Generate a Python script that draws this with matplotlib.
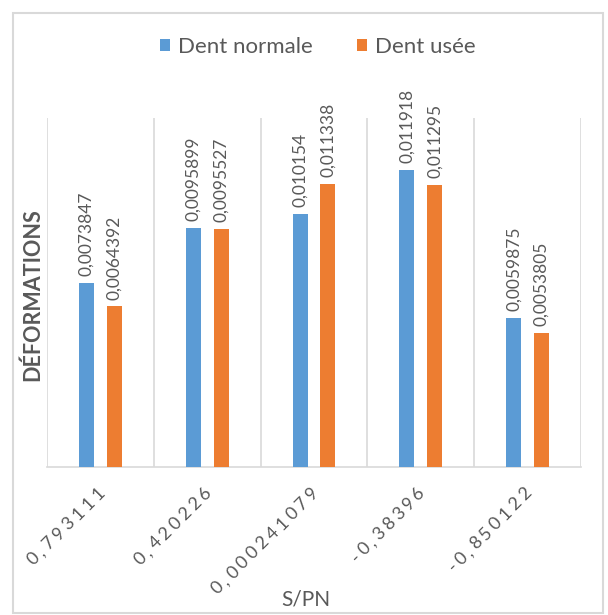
import matplotlib
matplotlib.use("Agg")
import numpy as np
from matplotlib import pyplot as plt
from matplotlib.patches import Rectangle

# S/PN levels and measured deformations
spn_labels = ["0,793111", "0,420226", "0,000241079", "-0,38396", "-0,850122"]
dent_normale = [0.0073847, 0.0095899, 0.010154, 0.011918, 0.0059875]
dent_usee = [0.0064392, 0.0095527, 0.011338, 0.011295, 0.0053805]

blue = "#5B9BD5"
orange = "#ED7D31"
txt = "#595959"
grid_col = "#D9D9D9"

plt.rcParams['font.family'] = ['Lato', 'DejaVu Sans']

fig = plt.figure(figsize=(6.08, 6.15), dpi=100)
W, H = 608, 615
ax = fig.add_axes([47 / W, 1 - 467 / H, (581 - 47) / W, (467 - 118) / H])

# chart frame
fig.patches.append(Rectangle((13 / W, 1 - 613 / H), 590 / W, 600 / H,
                             transform=fig.transFigure, fill=False,
                             edgecolor=grid_col, lw=1.5))

x = np.arange(len(spn_labels))
bw = 0.14
off = 0.13
b1 = ax.bar(x - off, dent_normale, bw, color=blue, label="Dent normale", zorder=3)
b2 = ax.bar(x + off, dent_usee, bw, color=orange, label="Dent usée", zorder=3)

def fmt(v):
    return str(v).replace(".", ",")

for bars, vals in ((b1, dent_normale), (b2, dent_usee)):
    for r, v in zip(bars, vals):
        ax.annotate(fmt(v), (r.get_x() + r.get_width() / 2, v),
                    xytext=(0, 5), textcoords="offset points",
                    rotation=90, ha="center", va="bottom", fontsize=12.5,
                    color=txt)

ax.set_xlim(-0.5, len(spn_labels) - 0.5)
ax.set_ylim(0, 0.014)
for b in np.arange(-0.5, len(spn_labels), 1.0):
    ax.axvline(b, color=grid_col, lw=1.2, zorder=1)

for s in ax.spines.values():
    s.set_visible(False)
ax.spines["bottom"].set_visible(True)
ax.spines["bottom"].set_color(grid_col)
ax.spines["bottom"].set_linewidth(1.2)

ax.set_yticks([])
ax.set_xticks(x)
ax.set_xticklabels([])
ax.tick_params(axis="x", length=0)

# category labels: 45 degree, spaced out one character at a time,
# ending just under the tick
adv = {",": 5.5, "-": 7.0}  # points per character, digits use 10
c, s_ = np.cos(np.radians(45)), np.sin(np.radians(45))
for xi, lab in zip(x, spn_labels):
    d = 0.0
    for ch in reversed(lab):
        w = adv.get(ch, 10.0)
        dc = d + w / 2
        ax.annotate(ch, (xi, 0), xycoords=("data", "axes fraction"),
                    xytext=(2 - dc * c, -16 - dc * s_), textcoords="offset points",
                    rotation=45, ha="center", va="center", fontsize=13,
                    color=txt)
        d += w

fig.text(33 / W, 1 - 295 / H, "DÉFORMATIONS", rotation=90, ha="center",
         va="center", fontsize=15.5, fontweight="bold", color=txt)
fig.text(306 / W, 1 - 600 / H, "S/PN", ha="center", va="center",
         fontsize=15, color=txt)

fig.legend(handles=[b1, b2], loc="center", bbox_to_anchor=(318 / W, 1 - 47 / H),
           ncol=2, frameon=False, fontsize=16, handlelength=0.45,
           handleheight=0.45, columnspacing=2.0, handletextpad=0.35,
           labelcolor=txt)

fig.savefig("out.png", dpi=100)
